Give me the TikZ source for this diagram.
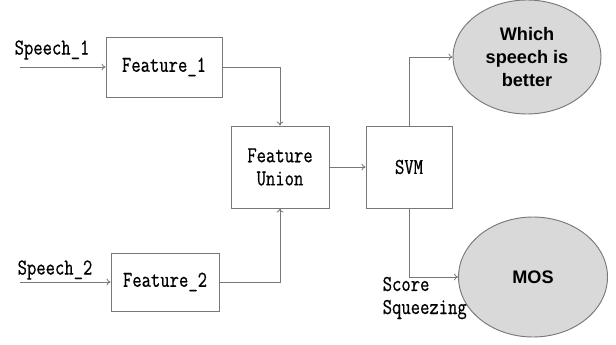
\documentclass[tikz,border=0pt]{standalone}
\usepackage{fontspec}
\setmonofont{Latin Modern Mono}[FakeStretch=0.8, FakeBold=0.6]
\newfontfamily\labelsans{Liberation Sans}
\usetikzlibrary{arrows.meta,shapes.geometric}
\definecolor{edge}{RGB}{120,120,120}
\definecolor{ovalfill}{RGB}{217,217,217}
\tikzset{
  blockbox/.style={draw=edge, line width=0.7pt, fill=white, inner sep=0pt},
  boxtext/.style={font=\ttfamily\fontsize{17}{17.3}\selectfont, align=center},
  outoval/.style={ellipse, draw=edge, line width=0.7pt, fill=ovalfill, inner sep=0pt,
                  font=\labelsans\bfseries\fontsize{13.6}{17.3}\selectfont, align=center},
  flow/.style={draw=edge, line width=0.6pt, -{To[length=3pt,width=5pt]}},
}
\begin{document}
\begin{tikzpicture}[x=0.75pt, y=-0.75pt]
\useasboundingbox (0,0) rectangle (616,345);

% processing blocks
\node[blockbox, minimum width=116*0.75pt, minimum height=60*0.75pt] (f1) at (164,67) {};
\node[boxtext] at (f1) {Feature\_1};
\node[blockbox, minimum width=108*0.75pt, minimum height=58*0.75pt] (f2) at (165,282) {};
\node[boxtext] at (f2) {Feature\_2};
\node[blockbox, minimum width=98*0.75pt, minimum height=82*0.75pt] (fu) at (280,167) {};
\node[boxtext] at (fu) {Feature\\Union};
\node[blockbox, minimum width=86*0.75pt, minimum height=82*0.75pt] (svm) at (409,167) {};
\node[boxtext] at (svm) {SVM};

% outputs
\node[outoval, minimum width=148*0.75pt, minimum height=114*0.75pt] (better) at (527,57) {Which\\speech is\\better};
\node[outoval, minimum width=149*0.75pt, minimum height=120*0.75pt] (mos) at (533,277) {MOS};

% inputs
\coordinate (s1) at (20,67);
\coordinate (s2) at (20,282);
\node[boxtext] (s1lab) at (52,50) {Speech\_1};
\node[boxtext] (s2lab) at (55,270) {Speech\_2};
\node[boxtext, align=left, anchor=west] (sq) at (378,298) {Score\\Squeezing};

% connectors
\draw[flow] (s1) -- (f1.west);
\draw[flow] (s2) -- (f2.west);
\draw[flow] (f1.east) -| (fu.north);
\draw[flow] (f2.east) -| (fu.south);
\draw[flow] (fu.east) -- (svm.west);
\draw[flow] (svm.north) |- (better.west);
\draw[flow] (svm.south) |- (mos.west);
\end{tikzpicture}
\end{document}
